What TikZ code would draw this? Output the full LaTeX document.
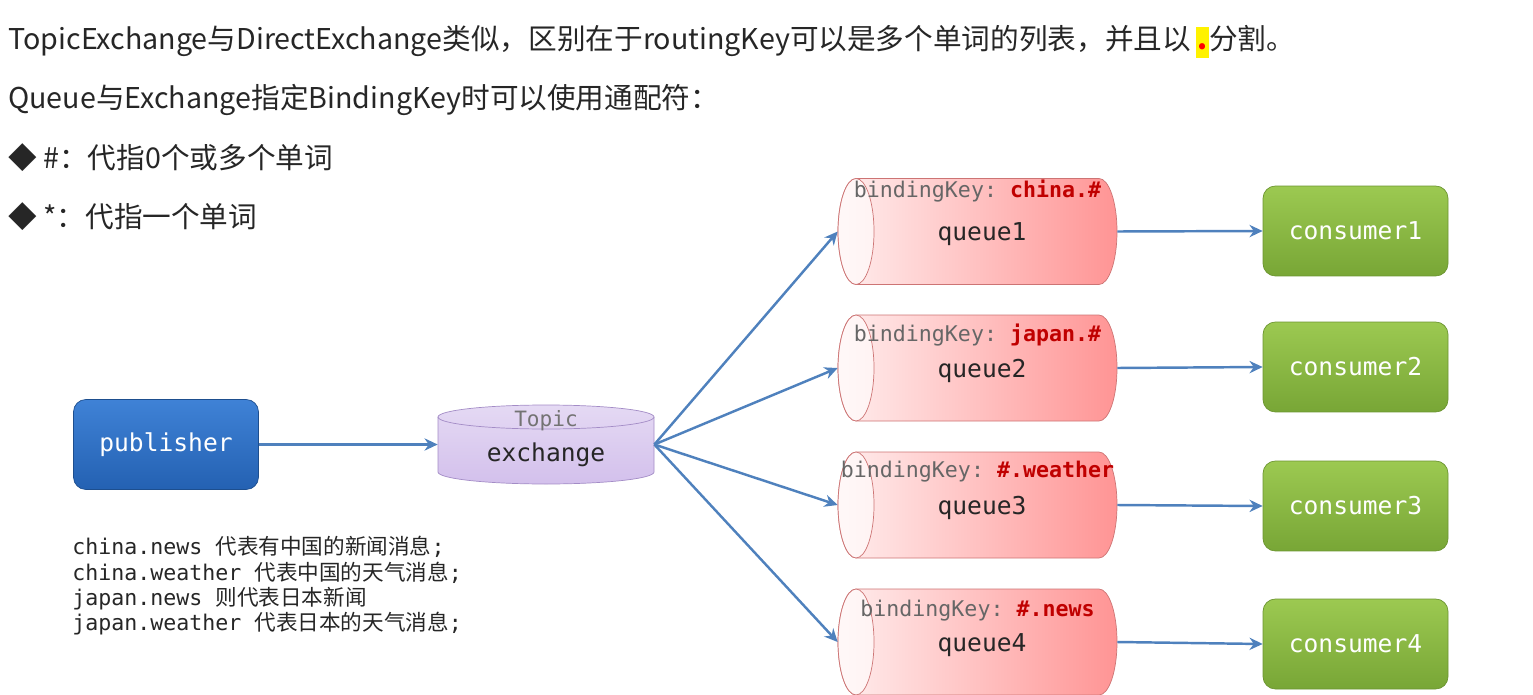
\documentclass[tikz,border=0pt]{standalone}
\usepackage{fontspec}
\setmainfont{Noto Sans CJK SC}
\setmonofont{DejaVu Sans Mono}
\newfontfamily\cjk{Noto Sans CJK SC}
\usetikzlibrary{arrows.meta}
\definecolor{arrowblue}{HTML}{4F81BD}
\definecolor{keyred}{HTML}{C00000}
\definecolor{pubtop}{HTML}{3F82D6}
\definecolor{pubbot}{HTML}{2461B2}
\definecolor{contop}{HTML}{9CC951}
\definecolor{conbot}{HTML}{78A636}
\definecolor{exfill}{HTML}{D3C0EC}
\definecolor{exline}{HTML}{A38CC6}
\definecolor{qleft}{HTML}{FFEEEE}
\definecolor{qright}{HTML}{FF9494}
\definecolor{qline}{HTML}{CD7474}
\begin{document}
\begin{tikzpicture}[x=0.02cm,y=0.02cm,
    flow/.style={arrowblue, line width=1.4pt, -{Stealth[length=7.5pt,width=7pt]}},
    box/.style={rounded corners=7pt, minimum width=3.7cm, minimum height=1.8cm, text=white, font=\ttfamily\fontsize{14}{16}\selectfont},
    pubbox/.style={box, top color=pubtop, bottom color=pubbot, draw=pubbot!80!black, thin},
    conbox/.style={box, top color=contop, bottom color=conbot, draw=conbot!90!black, thin},
    queuebox/.style={minimum width=5.58cm, minimum height=2.12cm, inner sep=0pt, text=black!85, font=\ttfamily\fontsize{14}{16}\selectfont},
    keylabel/.style={inner sep=0pt, text=black!60, font=\ttfamily\fontsize{12.3}{14}\selectfont},
    headline/.style={anchor=west, inner sep=0pt, text=black!85, font=\fontsize{16.3}{19}\selectfont}]
  \useasboundingbox (0,0) rectangle (1533,694);
  \node[headline] (l1) at (8,652) {TopicExchange与DirectExchange类似，区别在于routingKey可以是多个单词的列表，并且以\,{\setlength{\fboxsep}{1pt}\colorbox{yellow}{\vphantom{Ay}\textcolor{red}{\textbf{.}}}}分割。};
  \node[headline] (l2) at (8,594) {Queue与Exchange指定BindingKey时可以使用通配符：};
  \node[headline] (l3) at (8,536) {◆ \#：代指0个或多个单词};
  \node[headline] (l4) at (8,477) {◆ *：代指一个单词};

  \node[pubbox] (pub) at (166,249.5) {publisher};

  \shadedraw[draw=exline, top color=exfill!60!white, bottom color=exfill] (438,277) -- (438,222) arc (180:360:108 and 12) -- (654,277) arc (0:180:108 and 12) -- cycle;
  \draw[exline] (438,277) arc (180:360:108 and 12);
  \node[minimum width=4.32cm, minimum height=1.58cm, inner sep=0pt] (ex) at (546,249.5) {};
  \node[text=black!85, font=\ttfamily\fontsize{14}{16}\selectfont] (exname) at (546,239) {exchange};
  \node[text=black!55, font=\ttfamily\fontsize{12}{14}\selectfont] (extype) at (546,273) {Topic};
  \draw[flow] (pub.east) -- (ex.west);

  \foreach \i/\y/\dk/\key in {1/462.5/40/china.\#, 2/326/33/japan.\#, 3/189/33/\#.weather, 4/52/31/\#.news} {
    \shadedraw[draw=qline, left color=qleft, right color=qright] (856,\y+53) -- (1099,\y+53) arc (90:-90:18 and 53) -- (856,\y-53) arc (270:90:18 and 53) -- cycle;
    \filldraw[draw=qline, fill=white, fill opacity=.6] (856,\y) ellipse (18 and 53);
    \node[queuebox] (q\i) at (977.5,\y) {};
    \node[text=black!85, font=\ttfamily\fontsize{14}{16}\selectfont] (qn\i) at (982,\y-3) {queue\i};
    \node[keylabel] (k\i) at (977.5,\y+\dk) {bindingKey: \textcolor{keyred}{\textbf{\key}}};
    \draw[flow] (ex.east) -- (q\i.west);
  }
  \foreach \i/\y in {1/463, 2/327, 3/188, 4/50} {
    \node[conbox] (c\i) at (1355.5,\y) {consumer\i};
    \draw[flow] (q\i.east) -- (c\i.west);
  }

  \node[anchor=north west, inner sep=0pt, align=left, text=black!85, font=\ttfamily\fontsize{12.3}{14.4}\selectfont] (note) at (72,158)
    {china.news {\cjk 代表有中国的新闻消息};\\
     china.weather {\cjk 代表中国的天气消息};\\
     japan.news {\cjk 则代表日本新闻}\\
     japan.weather {\cjk 代表日本的天气消息};};
\end{tikzpicture}
\end{document}
